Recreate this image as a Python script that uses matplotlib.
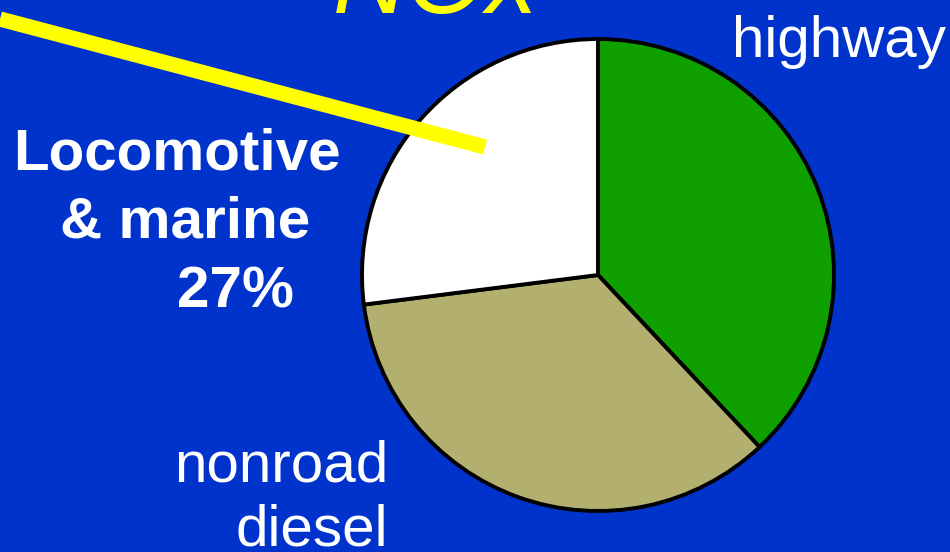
import matplotlib
matplotlib.use("Agg")
import matplotlib.pyplot as plt

categories = ["highway", "nonroad diesel", "Locomotive & marine"]
shares = [38, 35, 27]
colors = ["#0FA000", "#B3AF6E", "#FFFFFF"]
title = "NOx"

W, H = 950, 552
fig = plt.figure(figsize=(9.5, 5.52), dpi=100)
fig.patch.set_facecolor("#0033CC")
ax = fig.add_axes([0, 0, 1, 1])
ax.set_facecolor("#0033CC")

ax.pie(shares, colors=colors, startangle=90, counterclock=False,
       center=(598, H - 275), radius=236,
       wedgeprops=dict(edgecolor="black", linewidth=2.8), frame=True)
ax.set_xlim(0, W)
ax.set_ylim(0, H)
ax.set_aspect("equal")
ax.axis("off")

fam = ["Liberation Sans", "DejaVu Sans"]
ax.text(436, H - 13, title, color="#FFFF00", fontsize=74, style="italic",
        ha="center", va="baseline", family=fam)
ax.text(839, H - 57, "highway", color="white", fontsize=42,
        ha="center", va="baseline", family=fam)
ax.text(388, H - 481, "nonroad", color="white", fontsize=42,
        ha="right", va="baseline", family=fam)
ax.text(388, H - 545, "diesel", color="white", fontsize=42,
        ha="right", va="baseline", family=fam)
ax.text(177, H - 170, "Locomotive", color="white", fontsize=42,
        fontweight="bold", ha="center", va="baseline", family=fam)
ax.text(185, H - 238, "& marine", color="white", fontsize=42,
        fontweight="bold", ha="center", va="baseline", family=fam)
ax.text(235, H - 307, "27%", color="white", fontsize=42,
        fontweight="bold", ha="center", va="baseline", family=fam)

ax.plot([0, 485], [H - 19, H - 147], color="#FFFF00", linewidth=11,
        solid_capstyle="butt", zorder=5)

fig.savefig("out.png", dpi=100, facecolor=fig.get_facecolor())
